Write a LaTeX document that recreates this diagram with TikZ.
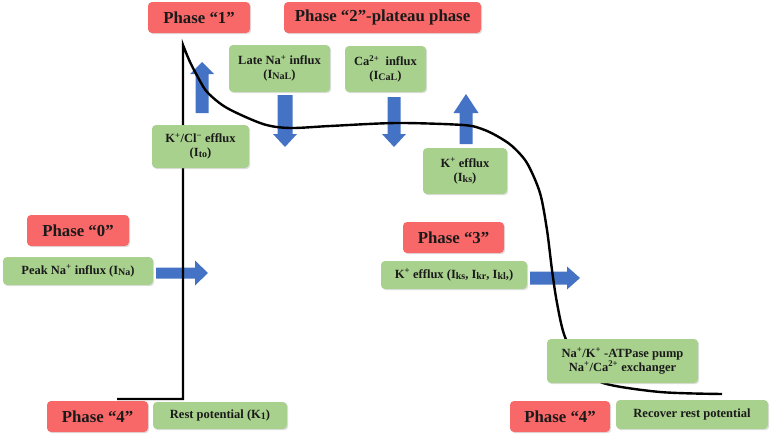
\documentclass[tikz,border=0pt]{standalone}
\usepackage{fontspec}
\setmainfont{Liberation Serif}
\usetikzlibrary{shadows}
\definecolor{phasered}{HTML}{F96868}
\definecolor{boxgreen}{HTML}{A9D18E}
\definecolor{arrowblue}{HTML}{4472C4}
\definecolor{txt}{HTML}{1A1A1A}
\newcommand{\lowtxt}[1]{\raisebox{-0.2ex}{\fontsize{10}{10}\selectfont #1}}
% #1 tail, #2 angle, #3 length, #4 shaft half width, #5 head half width, #6 head length
\newcommand{\fatarrow}[6]{%
  \fill[arrowblue, shift={#1}, rotate=#2] (0,-#4) -- (#3-#6,-#4) -- (#3-#6,-#5) -- (#3,0) -- (#3-#6,#5) -- (#3-#6,#4) -- (0,#4) -- cycle;}
\tikzset{
  phasebox/.style={fill=phasered, rounded corners=4pt, text=txt, font=\fontsize{16.8}{18}\selectfont\bfseries,
    inner sep=0pt, align=center, drop shadow={opacity=0.25, shadow xshift=1.2pt, shadow yshift=-1.2pt}},
  ionbox/.style={fill=boxgreen, rounded corners=4pt, text=txt, font=\fontsize{12.5}{14}\selectfont\bfseries,
    inner sep=0pt, align=center, drop shadow={opacity=0.25, shadow xshift=1.2pt, shadow yshift=-1.2pt}},
  apcurve/.style={line width=2.4pt, black, line join=miter}
}
\begin{document}
\begin{tikzpicture}[x=1pt,y=-1pt]
\useasboundingbox (0,0) rectangle (772,439);
\fill[white] (0,0) rectangle (772,439);
% block arrows
\fatarrow{(202,113)}{90}{51}{6.5}{12}{12}
\fatarrow{(285,95)}{-90}{52}{7.5}{12}{13}
\fatarrow{(394,97)}{-90}{50}{6.5}{12}{13}
\fatarrow{(466,144)}{90}{50}{6.5}{12.5}{19}
\fatarrow{(156,273)}{0}{52}{5.5}{12.5}{13}
\fatarrow{(530,278)}{0}{50}{6.5}{11.5}{13}
% action potential curve
\draw[apcurve] (117,399) -- (183,399) -- (183,45) -- plot[smooth, tension=0.5] coordinates {
 (183,45) (190,62) (200,81) (208,93) (227,108) (263,124) (290,128) (330,126) (397,123)
 (463,125) (482,129) (497,136) (512,146) (527,163) (540,193) (547,230) (552,270) (557,303)
 (565,337) (582,366) (603,383) (660,392) (722,394)};
% phase labels
\node[phasebox, minimum width=102pt, minimum height=31pt] (p1) at (199,17.5) {Phase “1”};
\node[phasebox, minimum width=197pt, minimum height=31pt] (p2) at (382.5,17.5) {Phase “2”-plateau phase};
\node[phasebox, minimum width=102pt, minimum height=31pt] (p0) at (78,230.5) {Phase “0”};
\node[phasebox, minimum width=101pt, minimum height=31pt] (p3) at (453.5,237.5) {Phase “3”};
\node[phasebox, minimum width=101pt, minimum height=31pt] (p4a) at (97.5,416.5) {Phase “4”};
\node[phasebox, minimum width=100pt, minimum height=31pt] (p4b) at (560,416.5) {Phase “4”};
% ion current labels
\node[ionbox, minimum width=101pt, minimum height=47pt] (nal) at (279.5,68.5) {Late Na\textsuperscript{+} influx\\(I\lowtxt{NaL})};
\node[ionbox, minimum width=81pt, minimum height=46pt] (cal) at (385.5,69) {Ca\textsuperscript{2+}\ \ influx\\(I\lowtxt{CaL})};
\node[ionbox, minimum width=97pt, minimum height=43pt] (ito) at (200.5,146.5) {K\textsuperscript{+}/Cl\textsuperscript{−} efflux\\(I\lowtxt{to})};
\node[ionbox, minimum width=84pt, minimum height=46pt] (iks) at (465,171) {K\textsuperscript{+} efflux\\(I\lowtxt{ks})};
\node[ionbox, minimum width=150pt, minimum height=28pt] (ina) at (78,271) {Peak Na\textsuperscript{+} influx (I\lowtxt{Na})};
\node[ionbox, minimum width=146pt, minimum height=28pt] (ik) at (454,275) {K\textsuperscript{+} efflux (I\lowtxt{ks}, I\lowtxt{kr}, I\lowtxt{kl},)};
\node[ionbox, minimum width=134pt, minimum height=27pt] (rest) at (220,415.5) {Rest potential (K\lowtxt{1})};
\node[ionbox, minimum width=151pt, minimum height=44pt] (pump) at (622.5,361) {Na\textsuperscript{+}/K\textsuperscript{+} -ATPase pump\\Na\textsuperscript{+}/Ca\textsuperscript{2+} exchanger};
\node[ionbox, minimum width=152pt, minimum height=29pt] (recover) at (692,414.5) {Recover rest potential};
\end{tikzpicture}
\end{document}
